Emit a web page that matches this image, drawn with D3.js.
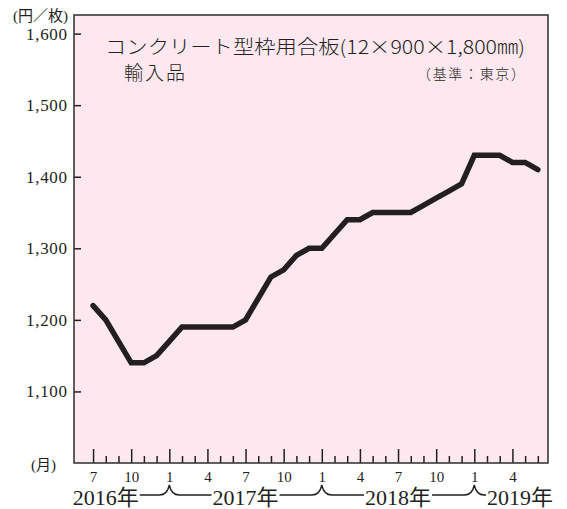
<!DOCTYPE html>
<html><head><meta charset="utf-8">
<script src="https://cdn.jsdelivr.net/npm/d3@7/dist/d3.min.js"></script>
<style>body{margin:0;background:#fff}svg{display:block}</style>
</head><body>
<svg id="c" width="567" height="509"></svg>
<script>
const months = ["2016-07","2016-08","2016-09","2016-10","2016-11","2016-12",
"2017-01","2017-02","2017-03","2017-04","2017-05","2017-06","2017-07","2017-08","2017-09","2017-10","2017-11","2017-12",
"2018-01","2018-02","2018-03","2018-04","2018-05","2018-06","2018-07","2018-08","2018-09","2018-10","2018-11","2018-12",
"2019-01","2019-02","2019-03","2019-04","2019-05","2019-06"];
const prices = [1220,1200,1170,1140,1140,1150,
1170,1190,1190,1190,1190,1190,1200,1230,1260,1270,1290,1300,
1300,1320,1340,1340,1350,1350,1350,1350,1360,1370,1380,1390,
1430,1430,1430,1420,1420,1410];
const yTicks = [1100,1200,1300,1400,1500,1600];
const majorMonths = [1,4,7,10];
const yearLabels = ["2016年","2017年","2018年","2019年"];
const title = "コンクリート型枠用合板(12×900×1,800㎜)";
const subtitle = "輸入品";
const note = "（基準：東京）";
const unitLabel = "(円／枚)";
const monthUnit = "(月)";

const ink = "#231f20";
const svg = d3.select("#c");
const L = 74, R = 548, T = 15, B = 463;
const x = d3.scaleLinear().domain([-1.5, 35.8]).range([L, R]);
const y = d3.scaleLinear().domain([1000, 1626]).range([B, T]);

svg.append("rect").attr("x", L).attr("y", T).attr("width", R - L).attr("height", B - T)
  .attr("fill", "#fde8f0");

const idx = d3.range(months.length);
const monthOf = i => +months[i].slice(5);
const majors = idx.filter(i => majorMonths.includes(monthOf(i)));
const minors = idx.filter(i => !majorMonths.includes(monthOf(i)));

// y axis
const ya = svg.append("g").attr("transform", `translate(${L},0)`)
  .call(d3.axisLeft(y).tickValues(yTicks).tickSize(-7).tickPadding(7).tickFormat(d3.format(",")));
ya.select(".domain").remove();
ya.selectAll("line").attr("stroke", ink).attr("stroke-width", 1.5);
ya.selectAll("text").attr("font-family", "Liberation Serif").attr("font-size", 17).attr("fill", ink)
  .attr("textLength", 41).attr("lengthAdjust", "spacing");

// x axis
const xa = svg.append("g").attr("transform", `translate(0,${B})`)
  .call(d3.axisBottom(x).tickValues(majors).tickSize(-14).tickPadding(8).tickFormat(i => monthOf(i)));
xa.select(".domain").remove();
xa.selectAll("line").attr("stroke", ink).attr("stroke-width", 1.5);
xa.selectAll("text").attr("font-family", "Liberation Serif").attr("font-size", 15).attr("fill", ink);
const xm = svg.append("g").attr("transform", `translate(0,${B})`)
  .call(d3.axisBottom(x).tickValues(minors).tickSize(-7).tickFormat(""));
xm.select(".domain").remove();
xm.selectAll("line").attr("stroke", ink).attr("stroke-width", 1.5);

// frame
svg.append("rect").attr("x", L).attr("y", T).attr("width", R - L).attr("height", B - T)
  .attr("fill", "none").attr("stroke", "#3a3a3a").attr("stroke-width", 1.6);

// line
svg.append("path").datum(prices)
  .attr("d", d3.line().x((d, i) => x(i)).y(d => y(d)))
  .attr("fill", "none").attr("stroke", ink).attr("stroke-width", 5.5)
  .attr("stroke-linejoin", "miter").attr("stroke-linecap", "round");

// texts
const jp = "Noto Sans CJK JP";
svg.append("text").attr("x", 105).attr("y", 54).text(title)
  .attr("font-family", jp).attr("font-weight", 300).attr("font-size", 19).attr("fill", ink)
  .attr("textLength", 420).attr("lengthAdjust", "spacingAndGlyphs");
svg.append("text").attr("x", 124).attr("y", 80).text(subtitle)
  .attr("font-family", jp).attr("font-weight", 300).attr("font-size", 19).attr("fill", ink)
  .attr("textLength", 61);
svg.append("text").attr("x", 525).attr("y", 79).attr("text-anchor", "end").text(note)
  .attr("font-family", jp).attr("font-weight", 300).attr("font-size", 14).attr("fill", ink)
  .attr("textLength", 108).attr("lengthAdjust", "spacing");
svg.append("text").attr("x", 68).attr("y", 21).attr("text-anchor", "end").text(unitLabel)
  .attr("font-family", "Liberation Serif, " + jp).attr("font-size", 15).attr("fill", ink);
svg.append("text").attr("x", 56).attr("y", 470).attr("text-anchor", "end").text(monthUnit)
  .attr("font-family", "Liberation Serif, " + jp).attr("font-size", 15).attr("fill", ink);

// year row
const jan = idx.filter(i => monthOf(i) === 1);
const yearPos = [{a: "start", p: -1.6}, {a: "middle", p: 12}, {a: "middle", p: 24}, {a: "end", p: 36.2}];
const yb = 505;
const yt = svg.append("g").selectAll("text").data(yearLabels).join("text")
  .attr("x", (d, i) => x(yearPos[i].p)).attr("y", yb).attr("text-anchor", (d, i) => yearPos[i].a)
  .attr("font-family", "Liberation Serif, " + jp).attr("font-size", 22).attr("fill", ink)
  .text(d => d);
const boxes = yt.nodes().map(n => n.getBBox());
const ly = 495, hw = 10;
const conn = d3.path();
jan.forEach((j, k) => {
  const xs = boxes[k].x + boxes[k].width + 1, xe = boxes[k + 1].x - 1, xj = x(j);
  conn.moveTo(xs, ly); conn.lineTo(xj - hw, ly);
  conn.quadraticCurveTo(xj - 2, ly, xj, ly - 10);
  conn.quadraticCurveTo(xj + 2, ly, xj + hw, ly);
  conn.lineTo(xe, ly);
});
svg.append("path").attr("d", conn.toString()).attr("fill", "none").attr("stroke", ink).attr("stroke-width", 1.4);
</script>
</body></html>
